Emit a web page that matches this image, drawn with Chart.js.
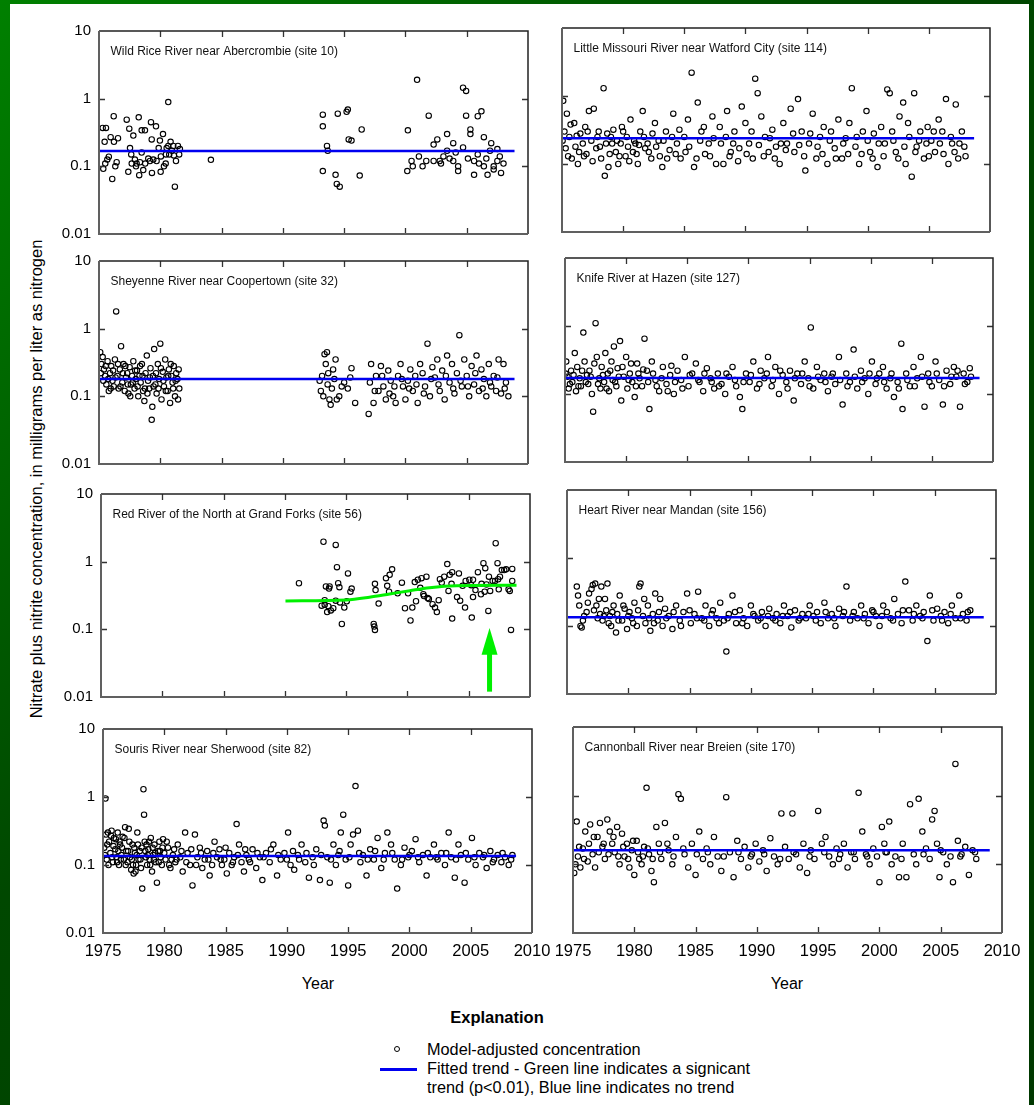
<!DOCTYPE html>
<html>
<head>
<meta charset="utf-8">
<script src="https://cdn.jsdelivr.net/npm/chart.js@4.4.1/dist/chart.umd.min.js"></script>
<style>
  html, body { margin: 0; padding: 0; }
  body {
    width: 1034px; height: 1105px; position: relative; overflow: hidden;
    background: linear-gradient(135deg, #008000 0%, #004800 42%, #003800 100%);
    font-family: "Liberation Sans", Arial, sans-serif; color: #000;
  }
  #sheet { position: absolute; left: 10px; top: 4px; width: 1019px; height: 1101px; background: #fff; }
  .panel { position: absolute; }
  .txt { position: absolute; white-space: nowrap; }
  #ytitle { left: -264px; top: 469px; width: 600px; height: 20px; line-height: 20px; text-align: center;
            font-size: 16.5px; transform: rotate(-90deg); }
  .year { top: 974px; font-size: 16px; width: 60px; text-align: center; line-height: 20px; }
  #explan { left: 397px; top: 1007px; width: 200px; text-align: center; font-weight: bold; font-size: 16.5px; line-height: 20px; }
  .leg { left: 427px; font-size: 16.3px; line-height: 19px; }
  #legDot { position: absolute; left: 394px; top: 1046px; width: 4px; height: 4px; border: 1px solid #000; border-radius: 50%; }
  #legLine { position: absolute; left: 380px; top: 1068px; width: 37px; height: 2.5px; background: #0000f0; }
</style>
</head>
<body>
<div id="sheet"></div>
<div id="ytitle" class="txt">Nitrate plus nitrite concentration, in milligrams per liter as nitrogen</div>
<div class="txt year" style="left:288px">Year</div>
<div class="txt year" style="left:757px">Year</div>
<div id="explan" class="txt">Explanation</div>
<div id="legDot"></div>
<div class="txt leg" style="top:1040px">Model-adjusted concentration</div>
<div id="legLine"></div>
<div class="txt leg" style="top:1059px">Fitted trend - Green line indicates a signicant</div>
<div class="txt leg" style="top:1078px">trend (p&lt;0.01), Blue line indicates no trend</div>

<script>
// axis ticks
const yTicks = [0.01, 0.1, 1, 10];
const xMin = 1975, xMax = 2010, xStep = 5;

// Wild Rice River near Abercrombie (site 10)
const site10 = [
  [1975.3,0.37],[1975.57,0.37],[1975.46,0.23],[1975.95,0.27],[1976.22,0.23],[1976.55,0.26],[1976.2,0.55],
  [1975.8,0.139],[1975.68,0.126],[1975.51,0.11],[1975.35,0.092],[1976.44,0.115],[1976.33,0.1],[1976.08,0.065],
  [1977.26,0.49],[1977.47,0.36],[1977.8,0.285],[1977.53,0.186],[1977.63,0.15],[1978.24,0.53],[1978.48,0.34],
  [1978.75,0.34],[1979.24,0.45],[1979.65,0.39],[1979.3,0.25],[1979.97,0.24],[1980.22,0.3],[1980.65,0.89],
  [1977.67,0.11],[1977.93,0.126],[1978.07,0.11],[1978.02,0.1],[1977.39,0.083],[1978.34,0.115],[1978.48,0.16],
  [1978.61,0.088],[1978.28,0.074],[1978.77,0.11],[1979.02,0.13],[1979.16,0.12],[1979.32,0.08],[1979.43,0.126],
  [1979.7,0.12],[1979.87,0.186],[1980.05,0.14],[1980.03,0.083],[1980.3,0.1],[1980.46,0.15],[1980.44,0.11],
  [1980.52,0.186],[1980.65,0.2],[1980.84,0.23],[1981.06,0.2],[1980.73,0.15],[1980.95,0.17],[1981.11,0.145],
  [1981.28,0.12],[1981.44,0.2],[1981.6,0.18],[1981.54,0.15],[1981.19,0.05],[1984.13,0.125],
  [1993.26,0.58],[1993.26,0.39],[1993.26,0.085],[1993.6,0.2],[1993.66,0.17],[1994.3,0.075],[1994.4,0.055],
  [1994.64,0.05],[1994.48,0.6],[1995.2,0.64],[1995.3,0.69],[1995.37,0.25],[1995.6,0.24],[1996.27,0.073],[1996.43,0.35],
  [2000.2,0.34],[2000.15,0.085],[2000.5,0.12],[2000.6,0.1],[2000.95,1.9],[2001.4,0.1],[2001.9,0.56],[2002.3,0.21],
  [2002.3,0.12],[2002.8,0.12],[2002.9,0.11],[2003.4,0.3],[2003.4,0.17],[2003.9,0.22],[2003.9,0.12],[2004.3,0.1],
  [2004.3,0.085],[2004.7,1.45],[2004.7,0.19],[2004.95,1.3],[2004.95,0.56],[2005.3,0.35],[2005.3,0.3],[2005.6,0.12],
  [2005.6,0.075],[2005.9,0.55],[2005.9,0.15],[2006.2,0.65],[2006.4,0.27],[2006.4,0.1],[2006.7,0.075],[2006.9,0.17],
  [2007.2,0.1],[2007.2,0.09],[2007.5,0.12],[2007.5,0.18],[2007.8,0.08],
  [2001.1,0.14],[2001.7,0.12],[2002.6,0.25],[2003.1,0.14],[2003.6,0.13],[2004.1,0.16],[2005.1,0.13],[2006.0,0.11],
  [2006.6,0.13],[2007.0,0.22],[2007.7,0.14],[2008.0,0.11]
];
const trend10 = [[1975, 0.168], [2008.9, 0.168]];

// Sheyenne River near Coopertown (site 32)
const site32 = [
  [1975.1,0.45],[1975.2,0.3],[1975.3,0.38],[1975.4,0.25],[1975.5,0.2],[1975.6,0.15],[1975.7,0.33],[1975.8,0.12],
  [1975.9,0.22],[1976.0,0.28],[1976.1,0.17],[1976.2,0.14],[1976.3,0.35],[1976.4,1.8],[1976.5,0.2],[1976.6,0.13],
  [1976.7,0.25],[1976.8,0.55],[1976.9,0.16],[1977.0,0.3],[1977.1,0.12],[1977.2,0.19],[1977.3,0.22],[1977.4,0.11],
  [1977.5,0.27],[1977.6,0.15],[1977.7,0.2],[1977.8,0.33],[1977.9,0.13],[1978.0,0.18],[1978.1,0.24],[1978.2,0.1],
  [1978.3,0.2],[1978.4,0.16],[1978.5,0.3],[1978.6,0.12],[1978.7,0.085],[1978.8,0.22],[1978.9,0.4],[1979.0,0.17],
  [1979.1,0.13],[1979.2,0.26],[1979.3,0.045],[1979.35,0.07],[1979.4,0.2],[1979.5,0.5],[1979.6,0.15],[1979.7,0.11],
  [1979.8,0.3],[1979.9,0.18],[1980.0,0.6],[1980.1,0.09],[1980.2,0.23],[1980.3,0.14],[1980.4,0.35],[1980.5,0.19],
  [1980.6,0.12],[1980.7,0.25],[1980.8,0.08],[1980.9,0.2],[1981.0,0.16],[1981.1,0.28],[1981.2,0.1],[1981.3,0.22],
  [1981.4,0.18],[1981.5,0.25],[1981.55,0.13],
  [1975.15,0.22],[1975.35,0.17],[1975.55,0.28],[1975.75,0.18],[1975.95,0.13],[1976.15,0.24],[1976.35,0.19],
  [1976.55,0.3],[1976.75,0.14],[1976.95,0.22],[1977.15,0.28],[1977.35,0.15],[1977.55,0.1],[1977.75,0.16],
  [1977.95,0.24],[1978.15,0.14],[1978.35,0.28],[1978.55,0.2],[1978.75,0.13],[1978.95,0.11],[1979.15,0.19],
  [1979.45,0.14],[1979.65,0.22],[1979.85,0.13],[1980.05,0.26],[1980.25,0.17],[1980.45,0.12],[1980.65,0.2],
  [1980.85,0.3],[1981.05,0.13],[1981.25,0.17],[1981.45,0.09],
  [1993.0,0.17],[1993.1,0.12],[1993.3,0.1],[1993.4,0.42],[1993.5,0.3],[1993.6,0.45],[1993.7,0.22],[1993.8,0.09],
  [1993.9,0.075],[1994.0,0.13],[1994.1,0.25],[1994.3,0.35],[1994.4,0.09],[1994.6,0.1],[1995.0,0.16],[1995.3,0.13],
  [1995.6,0.26],[1995.9,0.08],[1993.2,0.2],[1993.65,0.15],[1994.2,0.18],[1994.8,0.14],[1995.5,0.19],
  [1997.0,0.055],[1997.2,0.3],[1997.4,0.08],[1997.6,0.2],[1997.8,0.12],[1998.0,0.28],[1998.2,0.14],[1998.4,0.09],
  [1998.6,0.24],[1998.8,0.17],[1999.0,0.1],[1999.2,0.08],[1999.4,0.2],[1999.6,0.3],[1999.8,0.14],[2000.0,0.09],
  [2000.2,0.17],[2000.4,0.25],[2000.6,0.12],[2000.8,0.2],[2001.0,0.08],[2001.2,0.3],[2001.4,0.22],[2001.6,0.14],
  [2001.8,0.6],[2002.0,0.1],[2002.2,0.27],[2002.4,0.19],[2002.6,0.35],[2002.8,0.12],[2003.0,0.24],[2003.2,0.09],
  [2003.4,0.4],[2003.6,0.16],[2003.8,0.3],[2004.0,0.11],[2004.2,0.22],[2004.4,0.8],[2004.6,0.14],[2004.8,0.35],
  [2005.0,0.2],[2005.2,0.1],[2005.4,0.28],[2005.6,0.15],[2005.8,0.4],[2006.0,0.12],[2006.2,0.25],[2006.4,0.18],
  [2006.6,0.1],[2006.8,0.3],[2007.0,0.14],[2007.2,0.2],[2007.4,0.12],[2007.6,0.35],[2007.8,0.11],[2008.0,0.3],
  [2008.2,0.16],[2008.4,0.1],
  [1997.1,0.16],[1997.5,0.12],[1998.1,0.2],[1998.7,0.11],[1999.1,0.14],[1999.7,0.18],[2000.3,0.13],[2000.9,0.15],
  [2001.5,0.11],[2002.1,0.18],[2002.7,0.15],[2003.3,0.2],[2003.9,0.13],[2004.5,0.17],[2005.1,0.14],[2005.7,0.22],
  [2006.3,0.13],[2006.9,0.16],[2007.5,0.19],[2008.1,0.13]
];
const trend32 = [[1975, 0.18], [2008.9, 0.18]];

// Red River of the North at Grand Forks (site 56)
const site56 = [
  [1991.15,0.48],[1993.15,1.97],[1994.15,1.77],[1994.25,0.83],[1994.35,0.48],[1994.45,0.42],[1993.35,0.43],
  [1993.65,0.43],[1993.6,0.40],[1995.15,0.67],[1995.45,0.40],[1995.35,0.36],[1993.25,0.27],[1993.0,0.224],
  [1993.25,0.23],[1993.55,0.22],[1993.45,0.18],[1993.75,0.19],[1993.95,0.205],[1994.15,0.265],[1994.5,0.25],
  [1994.85,0.21],[1995.05,0.26],[1994.65,0.12],[1997.25,0.12],[1997.3,0.11],[1997.35,0.098],[1997.35,0.47],
  [1997.4,0.38],[1997.65,0.24],[1998.25,0.57],[1998.55,0.64],[1998.75,0.77],[1998.35,0.44],[1998.5,0.36],
  [1999.2,0.34],[1999.55,0.49],[1999.8,0.205],[2000.05,0.34],[2000.25,0.135],[2000.4,0.21],[2000.6,0.50],
  [2000.7,0.26],[2000.85,0.54],[2001.15,0.57],[2001.55,0.60],[2001.05,0.41],[2001.3,0.33],[2001.35,0.31],
  [2001.65,0.29],[2001.75,0.28],[2002.05,0.235],[2002.25,0.21],[2002.4,0.18],[2002.55,0.27],[2002.65,0.55],
  [2002.8,0.49],[2003.0,0.60],[2003.25,0.92],[2003.45,0.64],[2003.65,0.70],[2004.2,0.67],[2003.6,0.47],
  [2003.35,0.37],[2003.65,0.144],[2004.05,0.30],[2004.3,0.265],[2004.5,0.44],[2004.75,0.52],[2004.7,0.21],
  [2005.05,0.54],[2005.2,0.45],[2005.35,0.54],[2005.25,0.149],[2005.35,0.30],[2005.55,0.38],[2005.75,0.70],
  [2006.0,0.33],[2006.05,0.47],[2006.2,0.95],[2006.35,0.80],[2006.3,0.36],[2006.45,0.46],[2006.65,0.60],
  [2006.6,0.187],[2006.75,0.37],[2006.95,0.52],[2007.2,1.87],[2007.35,0.95],[2007.15,0.52],[2007.4,0.55],
  [2007.55,0.60],[2007.45,0.39],[2007.7,0.75],[2007.9,0.75],[2008.05,0.77],[2008.25,0.39],[2008.35,0.37],
  [2008.45,0.098],[2008.55,0.78],[2008.55,0.52]
];
const trend56 = [[1990.05,0.263],[1995.0,0.272],[1996.9,0.298],[1998.55,0.333],[2000.2,0.373],
                 [2001.8,0.413],[2004.0,0.442],[2008.9,0.448]];

// Souris River near Sherwood (site 82)
const site82 = [
  [1975.1,0.18],[1975.2,0.95],[1975.25,0.28],[1975.3,0.12],[1975.4,0.3],[1975.5,0.22],[1975.6,0.15],[1975.7,0.32],
  [1975.8,0.11],[1975.9,0.25],[1976.0,0.17],[1976.1,0.13],[1976.2,0.3],[1976.3,0.1],[1976.4,0.2],[1976.5,0.14],
  [1976.6,0.26],[1976.7,0.12],[1976.8,0.36],[1976.9,0.16],[1977.0,0.11],[1977.1,0.34],[1977.2,0.13],[1977.3,0.085],
  [1977.4,0.2],[1977.5,0.075],[1977.6,0.15],[1977.7,0.1],[1977.8,0.3],[1977.9,0.12],[1978.0,0.16],[1978.1,0.09],
  [1978.2,0.045],[1978.3,1.3],[1978.35,0.55],[1978.4,0.22],[1978.5,0.13],[1978.6,0.1],[1978.7,0.17],[1978.8,0.12],
  [1978.9,0.25],[1979.0,0.08],[1979.1,0.14],[1979.2,0.2],[1979.3,0.11],[1979.4,0.055],[1979.5,0.16],[1979.6,0.22],
  [1979.7,0.13],[1979.8,0.1],[1979.9,0.24],[1980.0,0.15],[1980.1,0.12],[1980.3,0.18],[1980.5,0.09],[1980.7,0.14],
  [1980.9,0.11],[1981.1,0.2],[1981.3,0.13],[1981.5,0.08],[1981.7,0.3],[1981.9,0.15],[1982.1,0.1],[1982.3,0.05],
  [1982.5,0.28],[1982.7,0.13],[1982.9,0.18],[1983.1,0.09],[1983.3,0.12],[1983.5,0.16],[1983.7,0.07],[1983.9,0.1],
  [1984.1,0.22],[1984.3,0.13],[1984.5,0.17],[1984.7,0.1],[1984.9,0.12],[1985.1,0.075],[1985.3,0.15],[1985.5,0.1],
  [1985.7,0.13],[1985.9,0.4],[1986.1,0.2],[1986.3,0.11],[1986.5,0.08],[1986.7,0.14],[1986.9,0.12],[1987.2,0.17],
  [1987.5,0.09],[1987.8,0.13],[1988.0,0.06],[1988.3,0.15],[1988.6,0.11],[1988.9,0.2],[1989.2,0.07],[1989.5,0.12],
  [1989.8,0.15],[1990.1,0.3],[1990.3,0.1],[1990.6,0.085],[1990.9,0.14],[1991.2,0.2],[1991.5,0.11],[1991.8,0.065],
  [1992.1,0.13],[1992.4,0.17],[1992.7,0.06],[1993.0,0.45],[1993.1,0.38],[1993.3,0.13],[1993.5,0.055],[1993.8,0.2],
  [1994.0,0.1],[1994.2,0.14],[1994.4,0.3],[1994.6,0.55],[1994.8,0.12],[1995.0,0.05],[1995.2,0.2],[1995.4,0.28],
  [1995.6,1.45],[1995.8,0.32],[1996.0,0.11],[1996.2,0.14],[1996.5,0.07],[1996.8,0.17],[1997.1,0.12],[1997.4,0.25],
  [1997.7,0.09],[1998.0,0.15],[1998.2,0.3],[1998.5,0.2],[1998.8,0.12],[1999.0,0.045],[1999.3,0.1],[1999.6,0.18],
  [1999.9,0.13],[2000.2,0.16],[2000.5,0.24],[2000.8,0.11],[2001.1,0.14],[2001.4,0.07],[2001.7,0.13],[2002.0,0.2],
  [2002.3,0.12],[2002.6,0.15],[2002.9,0.1],[2003.2,0.3],[2003.4,0.13],[2003.7,0.065],[2004.0,0.2],[2004.2,0.14],
  [2004.5,0.055],[2004.8,0.12],[2005.1,0.25],[2005.4,0.1],[2005.7,0.15],[2006.0,0.13],[2006.3,0.09],[2006.6,0.16],
  [2006.9,0.12],[2007.2,0.14],[2007.5,0.11],[2007.8,0.13],[2008.1,0.1],[2008.4,0.14],
  [1975.15,0.14],[1975.35,0.2],[1975.45,0.1],[1975.65,0.27],[1975.75,0.13],[1975.85,0.19],[1976.05,0.24],
  [1976.15,0.11],[1976.25,0.16],[1976.35,0.22],[1976.45,0.12],[1976.55,0.18],[1976.75,0.25],[1976.85,0.1],
  [1977.05,0.16],[1977.15,0.22],[1977.35,0.12],[1977.45,0.1],[1977.55,0.18],[1977.65,0.08],[1977.75,0.14],
  [1977.85,0.2],[1978.05,0.12],[1978.15,0.18],[1978.45,0.16],[1978.55,0.2],[1978.65,0.14],[1978.75,0.22],
  [1978.85,0.1],[1979.05,0.18],[1979.15,0.12],[1979.25,0.15],[1979.55,0.11],[1979.65,0.16],[1979.85,0.18],
  [1980.2,0.22],[1980.4,0.1],[1980.6,0.12],[1980.8,0.17],[1981.0,0.12],[1981.4,0.16],[1981.8,0.11],[1982.2,0.17],
  [1982.6,0.1],[1983.0,0.15],[1983.6,0.12],[1984.0,0.15],[1984.6,0.12],[1985.0,0.18],[1985.6,0.11],[1986.0,0.14],
  [1986.6,0.17],[1987.0,0.11],[1987.6,0.15],[1988.1,0.13],[1988.7,0.17],[1989.3,0.14],[1990.0,0.12],[1990.5,0.16],
  [1991.0,0.12],[1991.6,0.15],[1992.2,0.1],[1992.8,0.14],[1993.6,0.12],[1994.3,0.16],[1995.1,0.13],[1995.9,0.15],
  [1996.6,0.12],[1997.2,0.16],[1997.9,0.12],[1998.6,0.15],[1999.4,0.12],[2000.0,0.14],[2000.7,0.13],[2001.5,0.15],
  [2002.2,0.13],[2003.0,0.15],[2003.8,0.12],[2004.6,0.15],[2005.3,0.13],[2006.1,0.14],[2006.8,0.11],[2007.6,0.15],
  [2008.3,0.12]
];
const trend82 = [[1975, 0.136], [2008.7, 0.136]];

// Little Missouri River near Watford City (site 114)
const site114 = [
  [1975.1,0.85],[1975.2,0.3],[1975.3,0.17],[1975.4,0.55],[1975.6,0.25],[1975.8,0.12],[1976.0,0.4],[1976.1,0.18],
  [1976.3,0.1],[1976.5,0.28],[1976.7,0.2],[1976.9,0.35],[1977.0,0.14],[1977.2,0.6],[1977.4,0.22],[1977.6,0.65],
  [1977.8,0.17],[1978.0,0.3],[1978.2,0.12],[1978.4,1.3],[1978.5,0.067],[1978.6,0.2],[1978.8,0.09],[1979.0,0.25],
  [1979.2,0.32],[1979.4,0.15],[1979.6,0.1],[1979.8,0.2],[1980.0,0.3],[1980.2,0.13],[1980.4,0.18],[1980.6,0.45],
  [1980.8,0.15],[1981.0,0.2],[1981.2,0.1],[1981.4,0.3],[1981.6,0.6],[1981.8,0.17],[1982.0,0.2],[1982.3,0.12],
  [1982.6,0.4],[1982.9,0.22],[1983.2,0.09],[1983.5,0.3],[1983.8,0.16],[1984.1,0.55],[1984.4,0.2],[1984.7,0.12],
  [1985.0,0.25],[1985.3,0.45],[1985.6,2.2],[1985.8,0.09],[1986.1,0.8],[1986.4,0.3],[1986.7,0.14],[1987.0,0.2],
  [1987.3,0.5],[1987.6,0.1],[1987.9,0.35],[1988.2,0.1],[1988.5,0.6],[1988.8,0.15],[1989.1,0.3],[1989.4,0.11],
  [1989.7,0.7],[1990.0,0.4],[1990.3,0.2],[1990.6,0.12],[1990.8,1.8],[1991.0,1.1],[1991.3,0.5],[1991.6,0.25],
  [1991.9,0.15],[1992.2,0.32],[1992.5,0.18],[1992.8,0.1],[1993.1,0.4],[1993.4,0.2],[1993.7,0.65],[1994.0,0.15],
  [1994.3,0.9],[1994.6,0.3],[1994.9,0.08],[1995.2,0.2],[1995.5,0.55],[1995.8,0.12],[1996.1,0.25],[1996.4,0.35],
  [1996.7,0.1],[1997.0,0.3],[1997.3,0.17],[1997.6,0.45],[1997.9,0.12],[1998.2,0.24],[1998.5,0.4],[1998.7,1.3],
  [1999.0,0.18],[1999.3,0.1],[1999.6,0.3],[1999.9,0.6],[2000.2,0.15],[2000.5,0.28],[2000.8,0.09],[2001.1,0.35],
  [2001.4,0.2],[2001.6,1.25],[2001.8,1.1],[2002.0,0.3],[2002.3,0.15],[2002.6,0.5],[2002.9,0.8],[2003.1,0.1],
  [2003.4,0.25],[2003.6,0.065],[2003.8,1.1],[2004.0,0.18],[2004.3,0.3],[2004.6,0.12],[2004.9,0.35],[2005.2,0.22],
  [2005.5,0.15],[2005.8,0.45],[2006.1,0.3],[2006.4,0.9],[2006.6,0.1],[2006.9,0.2],[2007.2,0.75],[2007.4,0.12],
  [2007.7,0.3],[2007.9,0.18],
  [1975.05,0.22],[1975.5,0.13],[1975.7,0.38],[1976.2,0.26],[1976.4,0.15],[1976.8,0.13],[1977.1,0.3],[1977.5,0.11],
  [1977.9,0.25],[1978.1,0.18],[1978.7,0.28],[1978.9,0.14],[1979.1,0.2],[1979.5,0.22],[1979.7,0.13],[1979.9,0.35],
  [1980.3,0.25],[1980.5,0.11],[1980.9,0.22],[1981.1,0.14],[1981.3,0.19],[1981.7,0.25],[1982.1,0.15],[1982.4,0.28],
  [1982.7,0.18],[1983.0,0.13],[1983.3,0.22],[1983.6,0.12],[1984.0,0.25],[1984.3,0.14],[1984.6,0.32],[1985.1,0.15],
  [1985.4,0.18],[1986.0,0.12],[1986.3,0.22],[1986.6,0.35],[1987.1,0.13],[1987.4,0.24],[1988.0,0.2],[1988.4,0.25],
  [1988.7,0.13],[1989.0,0.2],[1989.5,0.17],[1990.1,0.14],[1990.5,0.3],[1991.1,0.19],[1991.5,0.13],[1992.0,0.24],
  [1992.4,0.12],[1992.9,0.2],[1993.3,0.16],[1993.9,0.28],[1994.4,0.19],[1994.8,0.13],[1995.3,0.28],[1995.9,0.18],
  [1996.3,0.14],[1996.9,0.22],[1997.4,0.12],[1998.0,0.2],[1998.4,0.14],[1999.1,0.25],[1999.5,0.14],[2000.0,0.22],
  [2000.4,0.12],[2000.9,0.2],[2001.3,0.13],[2002.1,0.22],[2002.5,0.12],[2003.0,0.18],[2003.3,0.4],[2003.9,0.15],
  [2004.2,0.22],[2004.8,0.2],[2005.0,0.13],[2005.4,0.3],[2005.9,0.2],[2006.2,0.14],[2006.8,0.25],[2007.1,0.15],
  [2007.5,0.2],[2008.0,0.13]
];
const trend114 = [[1975, 0.24], [2008.7, 0.24]];

// Knife River at Hazen (site 127)
const site127 = [
  [1975.1,0.3],[1975.2,0.18],[1975.3,0.12],[1975.5,0.22],[1975.6,0.15],[1975.8,0.4],[1975.9,0.11],[1976.0,0.25],
  [1976.2,0.17],[1976.3,0.13],[1976.5,0.8],[1976.6,0.3],[1976.8,0.19],[1976.9,0.14],[1977.0,0.22],[1977.2,0.1],
  [1977.3,0.055],[1977.5,1.1],[1977.6,0.35],[1977.8,0.17],[1977.9,0.12],[1978.0,0.25],[1978.2,0.15],[1978.3,0.4],
  [1978.5,0.2],[1978.6,0.11],[1978.8,0.3],[1978.9,0.16],[1979.0,0.5],[1979.2,0.13],[1979.3,0.24],[1979.5,0.6],
  [1979.6,0.08],[1979.8,0.18],[1980.0,0.35],[1980.1,0.12],[1980.3,0.2],[1980.5,0.15],[1980.7,0.09],[1980.9,0.28],
  [1981.1,0.17],[1981.3,0.13],[1981.5,0.65],[1981.7,0.22],[1981.9,0.06],[1982.1,0.3],[1982.4,0.16],[1982.7,0.11],
  [1983.0,0.25],[1983.3,0.14],[1983.6,0.19],[1983.9,0.1],[1984.2,0.22],[1984.5,0.16],[1984.8,0.35],[1985.1,0.13],
  [1985.4,0.2],[1985.7,0.28],[1986.0,0.15],[1986.3,0.11],[1986.6,0.24],[1986.9,0.17],[1987.2,0.12],[1987.5,0.2],
  [1987.8,0.14],[1988.1,0.1],[1988.4,0.18],[1988.7,0.25],[1989.0,0.13],[1989.3,0.09],[1989.5,0.06],[1989.8,0.2],
  [1990.1,0.15],[1990.4,0.3],[1990.7,0.12],[1991.0,0.22],[1991.3,0.17],[1991.6,0.35],[1991.9,0.13],[1992.2,0.25],
  [1992.5,0.1],[1992.8,0.19],[1993.1,0.15],[1993.4,0.22],[1993.7,0.08],[1994.0,0.2],[1994.3,0.14],[1994.6,0.3],
  [1994.9,0.17],[1995.1,0.95],[1995.3,0.12],[1995.6,0.25],[1995.9,0.16],[1996.2,0.2],[1996.5,0.11],[1996.8,0.18],
  [1997.1,0.14],[1997.4,0.35],[1997.7,0.07],[1998.0,0.2],[1998.3,0.15],[1998.6,0.45],[1998.9,0.12],[1999.2,0.22],
  [1999.5,0.17],[1999.8,0.1],[2000.1,0.3],[2000.4,0.14],[2000.7,0.2],[2001.0,0.25],[2001.3,0.12],[2001.6,0.17],
  [2001.9,0.09],[2002.2,0.15],[2002.5,0.55],[2002.6,0.06],[2002.9,0.2],[2003.2,0.13],[2003.5,0.25],[2003.8,0.17],
  [2004.1,0.35],[2004.4,0.065],[2004.7,0.2],[2005.0,0.13],[2005.3,0.3],[2005.6,0.16],[2005.9,0.07],[2006.2,0.22],
  [2006.5,0.14],[2006.8,0.25],[2007.0,0.18],[2007.3,0.065],[2007.6,0.2],[2007.9,0.15],[2008.1,0.24],
  [1975.05,0.2],[1975.4,0.14],[1975.7,0.19],[1976.1,0.13],[1976.4,0.22],[1976.7,0.15],[1977.1,0.18],[1977.4,0.28],
  [1977.7,0.14],[1978.1,0.19],[1978.4,0.12],[1978.7,0.22],[1979.1,0.15],[1979.4,0.18],[1979.7,0.25],[1980.2,0.16],
  [1980.4,0.28],[1980.8,0.13],[1981.0,0.2],[1981.4,0.23],[1981.8,0.15],[1982.2,0.2],[1982.5,0.13],[1982.9,0.17],
  [1983.4,0.11],[1983.7,0.26],[1984.0,0.15],[1984.6,0.12],[1985.2,0.19],[1985.9,0.16],[1986.4,0.2],[1987.0,0.15],
  [1987.6,0.13],[1988.2,0.2],[1988.9,0.16],[1989.6,0.15],[1990.2,0.19],[1990.9,0.14],[1991.5,0.2],[1992.0,0.16],
  [1992.6,0.22],[1993.2,0.12],[1993.8,0.17],[1994.4,0.2],[1995.0,0.13],[1995.7,0.18],[1996.3,0.15],[1996.9,0.2],
  [1997.5,0.16],[1998.1,0.13],[1998.7,0.18],[1999.3,0.15],[1999.9,0.2],[2000.5,0.17],[2001.1,0.15],[2001.7,0.2],
  [2002.3,0.12],[2003.0,0.16],[2003.6,0.13],[2004.2,0.18],[2004.8,0.15],[2005.4,0.2],[2006.0,0.13],[2006.6,0.18],
  [2007.1,0.22],[2007.7,0.14],[2008.2,0.18]
];
const trend127 = [[1975, 0.172], [2008.9, 0.172]];

// Heart River near Mandan (site 156)
const site156 = [
  [1975.8,0.38],[1975.9,0.28],[1976.0,0.2],[1976.1,0.1],[1976.2,0.095],[1976.4,0.14],[1976.6,0.16],[1976.8,0.3],
  [1977.0,0.35],[1977.1,0.4],[1977.3,0.42],[1977.4,0.2],[1977.5,0.13],[1977.7,0.15],[1977.8,0.38],[1977.9,0.12],
  [1978.1,0.25],[1978.2,0.17],[1978.3,0.42],[1978.5,0.14],[1978.6,0.1],[1978.8,0.2],[1979.0,0.08],[1979.1,0.15],
  [1979.3,0.28],[1979.5,0.12],[1979.7,0.18],[1979.9,0.09],[1980.1,0.16],[1980.3,0.13],[1980.5,0.22],[1980.7,0.1],
  [1980.9,0.38],[1981.0,0.42],[1981.2,0.14],[1981.4,0.11],[1981.6,0.2],[1981.8,0.085],[1982.0,0.15],[1982.2,0.3],
  [1982.4,0.12],[1982.6,0.25],[1982.8,0.1],[1983.0,0.18],[1983.3,0.14],[1983.6,0.09],[1983.9,0.2],[1984.2,0.12],
  [1984.5,0.16],[1984.8,0.3],[1985.1,0.11],[1985.4,0.15],[1985.7,0.32],[1986.0,0.13],[1986.3,0.2],[1986.6,0.1],
  [1986.9,0.17],[1987.2,0.13],[1987.5,0.22],[1987.8,0.12],[1988.0,0.042],[1988.2,0.15],[1988.5,0.28],[1988.8,0.11],
  [1989.1,0.17],[1989.4,0.13],[1989.7,0.1],[1990.0,0.2],[1990.3,0.14],[1990.6,0.12],[1990.9,0.16],[1991.2,0.1],
  [1991.5,0.18],[1991.8,0.13],[1992.1,0.15],[1992.4,0.11],[1992.7,0.2],[1993.0,0.14],[1993.3,0.095],[1993.6,0.17],
  [1993.9,0.12],[1994.2,0.15],[1994.5,0.13],[1994.8,0.2],[1995.1,0.14],[1995.4,0.16],[1995.7,0.11],[1996.0,0.22],
  [1996.3,0.13],[1996.6,0.15],[1996.9,0.1],[1997.2,0.18],[1997.5,0.14],[1997.8,0.38],[1998.1,0.12],[1998.4,0.16],
  [1998.7,0.13],[1999.0,0.2],[1999.3,0.15],[1999.6,0.11],[1999.9,0.17],[2000.2,0.14],[2000.5,0.1],[2000.8,0.2],
  [2001.1,0.16],[2001.4,0.13],[2001.7,0.25],[2002.0,0.15],[2002.3,0.11],[2002.6,0.45],[2002.9,0.17],[2003.2,0.12],
  [2003.5,0.2],[2003.8,0.14],[2004.1,0.16],[2004.4,0.06],[2004.6,0.28],[2004.9,0.12],[2005.2,0.18],[2005.5,0.14],
  [2005.8,0.16],[2006.1,0.11],[2006.4,0.2],[2006.7,0.13],[2007.0,0.28],[2007.3,0.15],[2007.6,0.12],[2007.9,0.17],
  [1976.3,0.12],[1976.7,0.22],[1977.2,0.17],[1977.6,0.25],[1978.0,0.14],[1978.4,0.11],[1978.7,0.16],[1979.2,0.12],
  [1979.6,0.2],[1980.0,0.14],[1980.4,0.11],[1980.8,0.17],[1981.3,0.25],[1981.7,0.13],[1982.1,0.11],[1982.5,0.16],
  [1983.1,0.13],[1983.7,0.16],[1984.3,0.1],[1985.0,0.17],[1985.6,0.13],[1986.2,0.12],[1986.8,0.15],[1987.4,0.11],
  [1988.1,0.13],[1988.7,0.16],[1989.3,0.11],[1990.2,0.15],[1990.8,0.13],[1991.4,0.14],[1992.0,0.12],[1992.6,0.14],
  [1993.2,0.16],[1994.0,0.13],[1994.7,0.15],[1995.3,0.12],[1996.1,0.16],[1996.8,0.13],[1997.6,0.16],[1998.3,0.14],
  [1999.2,0.13],[2000.0,0.16],[2000.7,0.14],[2001.6,0.12],[2002.4,0.17],[2003.3,0.15],[2004.0,0.13],[2004.8,0.17],
  [2005.6,0.12],[2006.3,0.15],[2007.1,0.13],[2007.7,0.16]
];
const trend156 = [[1975, 0.135], [2009.0, 0.135]];

// Cannonball River near Breien (site 170)
const site170 = [
  [1975.1,0.075],[1975.2,0.1],[1975.3,0.42],[1975.4,0.13],[1975.6,0.09],[1975.8,0.17],[1976.0,0.3],[1976.2,0.11],
  [1976.4,0.38],[1976.6,0.14],[1976.8,0.09],[1977.0,0.25],[1977.2,0.4],[1977.4,0.18],[1977.6,0.12],[1977.8,0.45],
  [1978.0,0.3],[1978.2,0.2],[1978.4,0.15],[1978.6,0.35],[1978.8,0.1],[1979.0,0.28],[1979.2,0.13],[1979.4,0.2],
  [1979.6,0.09],[1979.8,0.16],[1980.0,0.07],[1980.2,0.22],[1980.4,0.12],[1980.6,0.1],[1980.8,0.18],[1981.0,1.3],
  [1981.2,0.14],[1981.4,0.08],[1981.6,0.055],[1981.8,0.35],[1982.0,0.2],[1982.2,0.12],[1982.5,0.4],[1982.8,0.16],
  [1983.1,0.1],[1983.4,0.25],[1983.6,1.05],[1983.8,0.9],[1984.1,0.14],[1984.4,0.09],[1984.7,0.2],[1985.0,0.07],
  [1985.3,0.3],[1985.6,0.12],[1985.9,0.17],[1986.2,0.1],[1986.5,0.25],[1986.8,0.13],[1987.1,0.08],[1987.5,0.95],
  [1987.8,0.15],[1988.1,0.065],[1988.4,0.22],[1988.7,0.12],[1989.0,0.18],[1989.3,0.09],[1989.6,0.14],[1989.9,0.2],
  [1990.2,0.11],[1990.5,0.16],[1990.8,0.08],[1991.1,0.24],[1991.4,0.13],[1991.7,0.1],[1992.0,0.55],[1992.3,0.18],
  [1992.6,0.12],[1992.9,0.55],[1993.2,0.14],[1993.5,0.09],[1993.8,0.2],[1994.1,0.075],[1994.4,0.16],[1994.7,0.12],
  [1995.0,0.6],[1995.3,0.2],[1995.6,0.25],[1995.9,0.13],[1996.2,0.1],[1996.5,0.17],[1996.8,0.14],[1997.1,0.2],
  [1997.4,0.09],[1997.7,0.15],[1998.0,0.12],[1998.3,1.1],[1998.6,0.3],[1998.9,0.14],[1999.2,0.1],[1999.5,0.17],
  [1999.8,0.13],[2000.0,0.055],[2000.2,0.35],[2000.4,0.2],[2000.6,0.15],[2000.8,0.42],[2001.0,0.1],[2001.3,0.13],
  [2001.6,0.065],[2001.9,0.2],[2002.2,0.065],[2002.5,0.75],[2002.8,0.14],[2003.0,0.1],[2003.2,0.9],[2003.5,0.3],
  [2003.8,0.17],[2004.1,0.12],[2004.3,0.45],[2004.5,0.6],[2004.7,0.2],[2004.9,0.065],[2005.2,0.15],[2005.5,0.1],
  [2005.8,0.13],[2006.0,0.055],[2006.2,2.9],[2006.4,0.22],[2006.7,0.14],[2007.0,0.18],[2007.3,0.07],[2007.6,0.16],
  [2007.9,0.12],
  [1975.5,0.18],[1975.9,0.12],[1976.3,0.2],[1976.7,0.25],[1977.1,0.15],[1977.5,0.2],[1977.9,0.14],[1978.3,0.25],
  [1978.7,0.13],[1979.1,0.18],[1979.5,0.12],[1979.9,0.22],[1980.3,0.15],[1980.7,0.13],[1981.1,0.17],[1981.5,0.12],
  [1982.1,0.15],[1982.7,0.2],[1983.2,0.13],[1984.0,0.17],[1985.1,0.14],[1986.0,0.15],[1987.3,0.13],[1988.5,0.15],
  [1989.5,0.13],[1990.6,0.14],[1991.9,0.12],[1993.0,0.15],[1994.3,0.13],[1995.5,0.15],[1996.7,0.12],[1997.9,0.15],
  [1999.0,0.13],[2000.5,0.15],[2001.8,0.12],[2003.6,0.14],[2005.0,0.16],[2006.6,0.13],[2007.8,0.15]
];
const trend170 = [[1975, 0.16], [2009.0, 0.16]];

const BLUE = '#0000f0', GREEN = '#00f000';
const FONT = '"Liberation Sans", Arial, sans-serif';

// box = [left, top, right, bottom] of the plot frame in page pixels
const panels = [
  { title: 'Wild Rice River near Abercrombie (site 10)', box: [99, 31, 528, 234], pts: site10, trend: trend10, color: BLUE, xl: false, yl: true },
  { title: 'Sheyenne River near Coopertown (site 32)', box: [99, 261, 528, 464], pts: site32, trend: trend32, color: BLUE, xl: false, yl: true },
  { title: 'Red River of the North at Grand Forks (site 56)', box: [101, 494, 530, 697], pts: site56, trend: trend56, color: GREEN, xl: false, yl: true,
    arrow: { year: 2006.7, from: 0.012, head: 0.042, tip: 0.105 } },
  { title: 'Souris River near Sherwood (site 82)', box: [103, 729, 532, 933], pts: site82, trend: trend82, color: BLUE, xl: true, yl: true },
  { title: 'Little Missouri River near Watford City (site 114)', box: [562, 28, 990, 232], pts: site114, trend: trend114, color: BLUE, xl: false, yl: false },
  { title: 'Knife River at Hazen (site 127)', box: [565, 258, 993, 462], pts: site127, trend: trend127, color: BLUE, xl: false, yl: false },
  { title: 'Heart River near Mandan (site 156)', box: [567, 490, 996, 694], pts: site156, trend: trend156, color: BLUE, xl: false, yl: false },
  { title: 'Cannonball River near Breien (site 170)', box: [573, 727, 1002, 933], pts: site170, trend: trend170, color: BLUE, xl: true, yl: false }
];

const PADL = 50, PADT = 10, PADR = 22, PADB = 30;

const framePlugin = {
  id: 'frame',
  afterDraw(chart, args, opts) {
    const { ctx, chartArea: { left, top, right, bottom }, scales: { x, y } } = chart;
    ctx.save();
    ctx.lineCap = 'butt';
    // inward tick marks
    ctx.strokeStyle = '#333';
    ctx.lineWidth = 1.3;
    ctx.beginPath();
    x.ticks.forEach(t => {
      const px = Math.round(x.getPixelForValue(t.value)) + 0.5;
      if (px < left + 2 || px > right - 2) return;
      ctx.moveTo(px, bottom); ctx.lineTo(px, bottom - 6);
      ctx.moveTo(px, top); ctx.lineTo(px, top + 6);
    });
    y.ticks.forEach(t => {
      const py = Math.round(y.getPixelForValue(t.value)) + 0.5;
      if (py < top + 2 || py > bottom - 2) return;
      ctx.moveTo(left, py); ctx.lineTo(left + 6, py);
      ctx.moveTo(right, py); ctx.lineTo(right - 6, py);
    });
    ctx.stroke();
    // frame
    ctx.strokeStyle = '#222';
    ctx.lineWidth = 1.5;
    ctx.beginPath();
    ctx.moveTo(left, top); ctx.lineTo(right, top); ctx.lineTo(right, bottom);
    ctx.stroke();
    ctx.strokeStyle = '#606060';
    ctx.lineWidth = 2;
    ctx.beginPath();
    ctx.moveTo(left, top); ctx.lineTo(left, bottom); ctx.lineTo(right, bottom);
    ctx.stroke();
    // site name
    ctx.fillStyle = '#111';
    ctx.font = '12px ' + FONT;
    ctx.textBaseline = 'alphabetic';
    ctx.fillText(opts.title, left + 11.5, top + 23.5);
    // trend arrow
    if (opts.arrow) {
      const a = opts.arrow;
      const ax = x.getPixelForValue(a.year);
      const y0 = y.getPixelForValue(a.from), y1 = y.getPixelForValue(a.head), y2 = y.getPixelForValue(a.tip);
      ctx.fillStyle = GREEN;
      ctx.fillRect(ax - 2.5, y1 - 1, 5, y0 - y1 + 1);
      ctx.beginPath();
      ctx.moveTo(ax - 8, y1); ctx.lineTo(ax + 8, y1); ctx.lineTo(ax, y2);
      ctx.closePath();
      ctx.fill();
    }
    ctx.restore();
  }
};

panels.forEach(p => {
  const [L, T, R, B] = p.box;
  const div = document.createElement('div');
  div.className = 'panel';
  div.style.left = (L - PADL) + 'px';
  div.style.top = (T - PADT) + 'px';
  const cv = document.createElement('canvas');
  cv.width = R - L + PADL + PADR;
  cv.height = B - T + PADT + PADB;
  div.appendChild(cv);
  document.body.appendChild(div);

  new Chart(cv, {
    type: 'scatter',
    data: {
      datasets: [
        {
          data: p.trend.map(d => ({ x: d[0], y: d[1] })),
          showLine: true, borderColor: p.color, borderWidth: p.color === GREEN ? 3 : 2.5,
          pointRadius: 0, cubicInterpolationMode: 'monotone', order: 0
        },
        {
          data: p.pts.map(d => ({ x: d[0], y: d[1] })),
          pointRadius: 2.7, borderWidth: 1.1, borderColor: '#000',
          backgroundColor: 'rgba(0,0,0,0)', order: 1
        }
      ]
    },
    options: {
      responsive: false, animation: false, devicePixelRatio: 1,
      layout: { padding: { top: PADT, right: PADR, left: 0, bottom: 0 } },
      plugins: { legend: { display: false }, tooltip: { enabled: false }, frame: { title: p.title, arrow: p.arrow } },
      scales: {
        x: {
          type: 'linear', min: xMin, max: xMax,
          grid: { display: false, drawTicks: false }, border: { display: false },
          ticks: { display: p.xl, stepSize: xStep, autoSkip: false, maxRotation: 0, padding: 9,
                   color: '#000', font: { size: 16.5, family: FONT }, callback: v => String(v) },
          afterFit: a => { a.height = PADB; a.paddingLeft = 0; a.paddingRight = 0; }
        },
        y: {
          type: 'logarithmic', min: yTicks[0], max: yTicks[yTicks.length - 1],
          grid: { display: false, drawTicks: false }, border: { display: false },
          afterBuildTicks: a => { a.ticks = yTicks.map(v => ({ value: v })); },
          ticks: { display: p.yl, padding: 8, color: '#000', font: { size: 15, family: FONT },
                   callback: v => String(v) },
          afterFit: a => { a.width = PADL; a.paddingTop = 0; a.paddingBottom = 0; }
        }
      }
    },
    plugins: [framePlugin]
  });
});
</script>
</body>
</html>
